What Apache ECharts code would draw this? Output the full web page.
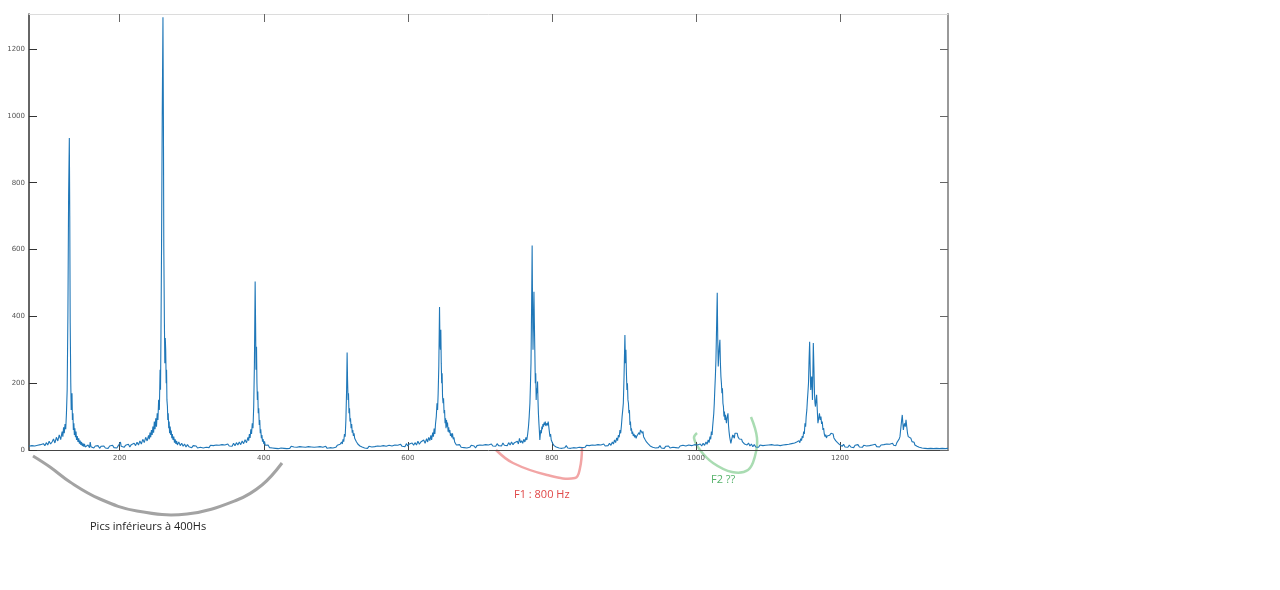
<!DOCTYPE html>
<html>
<head>
<meta charset="utf-8">
<script src="https://cdn.jsdelivr.net/npm/echarts@6/dist/echarts.min.js"></script>
<style>
html,body{margin:0;padding:0;background:#fff;}
#chart{width:1280px;height:590px;}
</style>
</head>
<body>
<div id="chart"></div>
<script>
// Tick labels
var xTicks = [200, 400, 600, 800, 1000, 1200];
var yTicks = [0, 200, 400, 600, 800, 1000, 1200];

// Spectrum segments: [frequency (Hz), amplitude]
var segStart = [[74,11],[76,8],[78,13],[80,9],[82,12],[84,7],[86,14],[88,10],[90,16],[92,11],[94,19],[96,13],[98,22],[100,15],[102,26],[104,18],[106,24],[108,33],[110,21],[112,38],[114,27],[116,45],[118,31],[120,55],[121,40],[122,68],[123,50],[124,78],[125,62],[126,110],[127,180],[128,400],[129,760]];
var segPeak1 = [[130,934],[130.6,700],[131.2,380],[132,200],[132.6,120],[133.2,150],[133.7,170],[134.3,90],[135,110],[135.6,60],[136.3,80],[137,45],[137.7,65],[138.5,38],[139.3,55],[140,30],[141,42],[142,24],[143,35],[144,19],[145,28],[146,15],[147,24],[148,12],[149,20],[150,10],[151,18],[152,9],[153,14]];
var segGap1 = [[154,8],[156,15],[158,7],[159,24],[160,10],[162,14],[164,6],[166,12],[168,8],[170,13],[172,5],[174,11],[176,7],[178,12],[180,6],[182,10],[184,5],[186,12],[188,8],[190,14],[192,7],[194,11],[196,6],[198,13],[200,9],[201,24],[202,11],[204,15],[206,8],[208,14],[210,10],[212,17],[214,9],[216,16],[218,11],[220,20],[222,13],[224,23],[226,15],[228,27],[230,18],[232,32],[234,22],[236,38],[238,27],[240,44],[241,32],[242,52],[243,38],[244,60],[245,45],[246,70],[247,52],[248,85],[249,62],[250,95],[251,70],[252,110],[253,90],[254,150],[255,120],[256,240],[256.6,180],[257.2,338],[258,600],[259,1000]];
var segPeak2 = [[260,1295],[260.6,1000],[261.2,600],[262,380],[262.6,260],[263.2,335],[263.8,300],[264.5,200],[265,240],[265.5,150],[266.2,130],[266.7,90],[267.3,110],[268,65],[268.6,85],[269.2,50],[270,70],[270.8,45],[271.5,58],[272.3,35],[273,48],[274,30],[275,40],[276,22],[277,32],[278,18],[279,27],[280,15]];
var segGap2 = [[282,24],[284,13],[286,20],[288,11],[290,18],[292,9],[294,16],[296,10],[298,14],[300,7],[302,13],[304,9],[306,12],[308,6],[310,11],[312,8],[314,13],[316,6],[318,10],[320,8],[322,12],[324,7],[326,14],[328,9],[330,13],[332,8],[334,15],[336,10],[338,14],[340,9],[342,16],[344,11],[346,15],[348,10],[350,18],[352,12],[354,17],[356,11],[358,20],[360,13],[362,22],[364,15],[366,24],[368,16],[370,27],[372,19],[374,31],[376,22],[378,38],[379,28],[380,48],[381,36],[382,62],[383,48],[384,80],[385,65],[386,130],[387,260]];
var segPeak3 = [[388,504],[388.6,380],[389.2,240],[389.9,309],[390.5,200],[391.1,150],[391.7,175],[392.3,110],[393,125],[393.7,75],[394.4,90],[395.1,50],[395.8,62],[396.6,35],[397.4,45],[398.2,25],[399,33],[400,18],[401,26],[402,14]];
var segGap3 = [[404,10],[406,15],[408,7],[410,12],[412,6],[414,10],[416,5],[418,9],[420,4],[422,8],[424,6],[426,10],[428,5],[430,9],[432,4],[434,8],[436,5],[438,11],[440,6],[442,9],[444,4],[446,8],[448,5],[450,10],[452,6],[454,9],[456,4],[458,8],[460,5],[462,10],[464,6],[466,9],[468,5],[470,8],[472,4],[474,9],[476,6],[478,10],[480,5],[482,8],[484,6],[486,11],[488,5],[490,9],[492,7],[494,12],[496,6],[498,10],[500,8],[502,14],[504,9],[506,17],[507,12],[508,24],[509,18],[510,32],[511,25],[512,48],[513,40],[514,90],[515,180]];
var segPeak4 = [[515.7,292],[516.3,210],[517,150],[517.6,170],[518.3,110],[519,125],[519.7,85],[520.4,95],[521.2,65],[522,78],[522.8,52],[523.6,60],[524.4,42],[525.3,50],[526.2,35],[527.2,40],[528.2,26],[529.3,30],[530.5,18],[532,22],[533.5,12],[535,15],[536.5,9]];
var segGap4 = [[538,12],[540,6],[542,10],[544,5],[546,11],[548,7],[550,9],[552,5],[554,10],[556,6],[558,12],[560,7],[562,11],[564,6],[566,13],[568,8],[570,11],[572,7],[574,14],[576,9],[578,12],[580,8],[582,15],[584,10],[586,14],[588,9],[590,17],[592,11],[594,16],[596,10],[598,19],[600,12],[602,18],[604,13],[606,21],[608,14],[610,22],[612,15],[614,26],[616,17],[618,24],[620,19],[622,30],[624,20],[626,34],[627.5,24],[629,38],[630.5,28],[632,44],[633,30],[634.5,52],[635.5,40],[636.5,64],[637.5,48],[638.5,80],[639.5,100],[640.5,140],[641.3,120],[642.1,170],[643,250]];
var segPeak5 = [[644,428],[644.6,320],[645.2,300],[645.8,360],[646.4,260],[647,200],[647.6,230],[648.2,160],[648.9,140],[649.6,155],[650.3,110],[651,120],[651.7,80],[652.4,95],[653,65],[653.7,90],[654.4,70],[655.1,82],[655.9,55],[656.7,68],[657.5,52],[658.3,60],[659.2,42],[660.1,50],[661,38],[662,50],[663,32],[664,38],[665,24],[666.2,28],[667.4,15],[668.6,20],[670,11]];
var segGap5 = [[672,16],[674,8],[676,13],[678,7],[680,12],[682,6],[684,11],[686,8],[688,14],[690,9],[692,12],[694,6],[696,13],[698,8],[700,15],[702,10],[704,14],[706,9],[708,16],[710,11],[712,15],[714,10],[716,18],[718,12],[720,17],[722,11],[724,19],[726,13],[728,18],[730,12],[732,21],[734,14],[736,19],[738,13],[740,22],[742,15],[744,24],[746,16],[748,22],[750,17],[752,26],[753.5,18],[755,35],[756.5,22],[758,28],[759.5,20],[761,32],[762.5,24],[764,38],[765.2,30],[766.4,48],[767.5,70],[768.5,100],[769.5,140],[770.3,200],[771,260],[771.8,420]];
var segPeak6 = [[772.6,612],[773.2,420],[773.8,300],[774.5,390],[775.1,474],[775.7,380],[776.3,300],[777,200],[777.6,230],[778.2,150],[778.8,185],[779.5,170],[780.1,205],[780.7,150],[781.3,110],[782,80],[782.7,55],[783.3,30],[784,48],[784.7,60],[785.4,50],[786.1,70],[786.8,62],[787.6,78],[788.4,70],[789.2,82],[790,75],[790.8,85],[791.6,72],[792.4,68],[793.2,80],[794,74],[794.9,85],[795.7,70],[796.5,55],[797.3,40],[798.2,48],[799.1,30],[800,35],[801,20],[802,24],[803,13],[804,16]];
var segGap6 = [[806,9],[808,14],[810,6],[812,11],[814,5],[816,10],[818,7],[820,13],[822,6],[824,11],[826,5],[828,10],[830,7],[832,12],[834,6],[836,11],[838,8],[840,13],[842,7],[844,12],[846,8],[848,14],[850,9],[852,13],[854,8],[856,15],[858,10],[860,14],[862,9],[864,16],[866,11],[868,15],[870,10],[872,18],[874,12],[876,17],[878,13],[880,20],[882,14],[884,24],[885.5,18],[887,30],[888.5,22],[890,36],[891.2,28],[892.4,45],[893.5,38],[894.5,60],[895.5,50],[896.5,72],[897.5,100],[898.4,120],[899.2,140],[900.2,220]];
var segPeak7 = [[901.4,344],[902.1,260],[902.8,300],[903.5,230],[904.2,180],[904.9,200],[905.6,150],[906.3,140],[907,110],[907.7,120],[908.4,75],[909.1,85],[909.8,58],[910.5,65],[911.3,48],[912.1,55],[913,42],[914,48],[915,38],[916,44],[917,35],[918,42],[919,45],[920,40],[921,52],[922,46],[923,60],[924,55],[924.8,65],[925.6,50],[926.4,56],[927.3,40],[928.2,44],[929.2,32],[930.2,36],[931.3,24],[932.5,28],[933.8,18],[935,22],[936.5,12]];
var segGap7 = [[938,16],[940,8],[942,12],[944,6],[946,11],[948,7],[950,13],[952,6],[954,10],[956,5],[958,11],[960,7],[962,12],[964,6],[966,10],[968,8],[970,13],[972,7],[974,11],[976,6],[978,12],[980,8],[982,14],[984,9],[986,12],[988,8],[990,15],[992,10],[994,13],[996,9],[998,16],[1000,11],[1002,15],[1004,10],[1006,18],[1008,12],[1010,20],[1012,14],[1014,24],[1015.5,17],[1017,30],[1018.3,22],[1019.5,40],[1020.5,32],[1021.5,55],[1022.4,45],[1023.2,70],[1024,90],[1024.8,110],[1025.5,140],[1026.2,180],[1027,220],[1027.8,270],[1028.8,380]];
var segPeak8 = [[1029.6,471],[1030.3,330],[1031,250],[1031.7,280],[1032.5,310],[1033.3,330],[1034,260],[1034.7,220],[1035.4,200],[1036.1,170],[1036.8,185],[1037.5,140],[1038.2,130],[1038.9,100],[1039.6,115],[1040.3,90],[1041,105],[1041.7,110],[1042.4,80],[1043.1,95],[1043.8,100],[1044.5,110],[1045.2,75],[1046,55],[1046.8,40],[1047.6,30],[1048.5,20],[1049.3,28],[1050.2,32],[1051,45],[1051.8,38],[1052.6,44],[1053.4,35],[1054.2,50],[1055,48],[1055.8,55],[1056.6,45],[1057.4,50],[1058.3,40],[1059.2,44],[1060.2,33],[1061.2,38],[1062.3,28],[1063.5,32],[1064.7,24],[1066,27],[1067.5,18],[1069,22]];
var segGap8 = [[1071,15],[1073,21],[1075,12],[1077,18],[1079,10],[1081,16],[1083,9],[1085,14],[1087,8],[1089,15],[1091,10],[1093,13],[1095,8],[1097,14],[1099,9],[1101,15],[1103,10],[1105,16],[1107,11],[1109,14],[1111,9],[1113,15],[1115,10],[1117,13],[1119,9],[1121,15],[1123,11],[1125,16],[1127,12],[1129,17],[1131,13],[1133,19],[1135,14],[1137,21],[1138.5,16],[1140,24],[1141.5,19],[1143,28],[1144.3,22],[1145.5,34],[1146.6,28],[1147.6,42],[1148.6,36],[1149.6,55],[1150.5,48],[1151.4,80],[1152.3,70],[1153.1,100],[1154,120],[1154.8,150],[1155.6,175],[1156.3,200],[1157.1,270]];
var segPeak9 = [[1157.9,324],[1158.7,240],[1159.4,180],[1160.1,200],[1160.7,220],[1161.3,190],[1161.8,150],[1162.4,230],[1163,320],[1163.8,250],[1164.6,170],[1165.3,140],[1166,130],[1166.8,150],[1167.6,165],[1168.5,120],[1169.4,80],[1170.5,95],[1171.5,110],[1172.5,90],[1173.6,100],[1174.5,78],[1175.4,85],[1176.4,60],[1177.3,66],[1178.2,48],[1179.2,40],[1180.2,46],[1181.2,36],[1182.2,42],[1183.3,45],[1184.4,38],[1185.5,44],[1186.6,40],[1187.6,50],[1188.5,55],[1189.5,46],[1190.5,48],[1191.6,36],[1192.8,38],[1194,28],[1195.3,30],[1196.6,22],[1198,25],[1199.5,16],[1201,19]];
var segGap9 = [[1203,11],[1205,17],[1207,9],[1209,14],[1211,8],[1213,15],[1215,9],[1217,13],[1219,7],[1221,14],[1223,10],[1225,16],[1227,9],[1229,13],[1231,8],[1233,14],[1235,9],[1237,12],[1239,7],[1241,13],[1243,10],[1245,15],[1247,11],[1249,17],[1251,10],[1253,14],[1255,9],[1257,15],[1259,11],[1261,16],[1263,12],[1265,18],[1267,13],[1269,17],[1271,12],[1273,20],[1274.5,14],[1276,18],[1277.5,13],[1279,22],[1280.6,25],[1282,32],[1283.3,40],[1284.7,70],[1285.7,90]];
var segPeak10 = [[1286.5,105],[1287.3,80],[1288,60],[1288.8,72],[1289.6,80],[1290.7,70],[1291.7,90],[1292.7,70],[1293.8,50],[1294.8,40],[1295.8,35],[1297,45],[1298.5,35],[1300,25],[1301,29],[1302,20],[1303,23],[1304,15],[1305.5,18],[1307,11],[1308.5,13],[1310,8]];
var segEnd = [[1312,10],[1314,6],[1316,9],[1318,5],[1320,8],[1322,4],[1324,7],[1326,5],[1328,8],[1330,4],[1332,7],[1334,5],[1336,8],[1338,4],[1340,6],[1342,5],[1344,7],[1346,4],[1348,6],[1350,5]];

var spectrum = [].concat(segStart, segPeak1, segGap1, segPeak2, segGap2, segPeak3, segGap3,
  segPeak4, segGap4, segPeak5, segGap5, segPeak6, segGap6, segPeak7, segGap7, segPeak8,
  segGap8, segPeak9, segGap9, segPeak10, segEnd);

// Annotation texts
var noteLow = 'Pics inférieurs à 400Hs';
var noteF1 = 'F1 : 800 Hz';
var noteF2 = 'F2 ??';

var chart = echarts.init(document.getElementById('chart'), null, {renderer: 'canvas'});
var plain = function (v) { return String(v); };
var tickLabel = {fontSize: 7, color: '#555', fontFamily: 'DejaVu Sans', formatter: plain};
chart.setOption({
  animation: false,
  backgroundColor: '#fff',
  grid: {left: 29, right: 332, top: 14, bottom: 140, containLabel: false},
  xAxis: [{
    type: 'value', position: 'bottom', min: 74, max: 1350,
    axisLine: {show: true, onZero: false, lineStyle: {color: '#444', width: 1}},
    axisTick: {show: true, inside: true, length: 8, customValues: xTicks, lineStyle: {color: '#444'}},
    axisLabel: Object.assign({show: true, margin: 5, customValues: xTicks}, tickLabel),
    splitLine: {show: false}
  }, {
    type: 'value', position: 'top', min: 74, max: 1350,
    axisLine: {show: true, onZero: false, lineStyle: {color: '#dcdcdc', width: 1}},
    axisTick: {show: true, inside: true, length: 8, customValues: xTicks, lineStyle: {color: '#666'}},
    axisLabel: {show: false},
    splitLine: {show: false}
  }],
  yAxis: [{
    type: 'value', position: 'left', min: 0, max: 1305,
    axisLine: {show: true, onZero: false, lineStyle: {color: '#333', width: 1.5}},
    axisTick: {show: true, inside: true, length: 8, customValues: yTicks, lineStyle: {color: '#333'}},
    axisLabel: Object.assign({show: true, margin: 4, customValues: yTicks}, tickLabel),
    splitLine: {show: false}
  }, {
    type: 'value', position: 'right', min: 0, max: 1305,
    axisLine: {show: true, onZero: false, lineStyle: {color: '#999', width: 2}},
    axisTick: {show: true, inside: true, length: 8, customValues: yTicks, lineStyle: {color: '#666'}},
    axisLabel: {show: false},
    splitLine: {show: false}
  }],
  series: [{
    type: 'line', xAxisIndex: 0, yAxisIndex: 0,
    data: spectrum, showSymbol: false, symbol: 'none', smooth: false,
    lineStyle: {color: '#1f77b8', width: 1.1}, z: 3
  }],
  graphic: [
    {type: 'polyline', shape: {points: [[33,456],[50,467],[70,482],[100,499],[137,511],[187,514],[237,500],[262,485],[282,463]], smooth: 0.4},
      style: {stroke: '#a3a3a3', lineWidth: 3, fill: null}},
    {type: 'text', left: 90, top: 521, style: {text: noteLow, fontSize: 11, fontFamily: 'Open Sans', fill: '#222'}},
    {type: 'polyline', shape: {points: [[496,450],[513,463],[547,475],[575,478],[580,468],[582,448]], smooth: 0.4},
      style: {stroke: '#f2a5a5', lineWidth: 2.5, fill: null}},
    {type: 'text', left: 514, top: 489, style: {text: noteF1, fontSize: 11, fontFamily: 'Open Sans', fill: '#e04848'}},
    {type: 'polyline', shape: {points: [[697,433],[694,438],[700,450],[713,463],[732,472],[748,470],[755,456],[757,438],[751,417]], smooth: 0.4},
      style: {stroke: '#a9dcb2', lineWidth: 2.5, fill: null}},
    {type: 'text', left: 711, top: 474, style: {text: noteF2, fontSize: 11, fontFamily: 'Open Sans', fill: '#55b26a'}}
  ]
});
</script>
</body>
</html>
